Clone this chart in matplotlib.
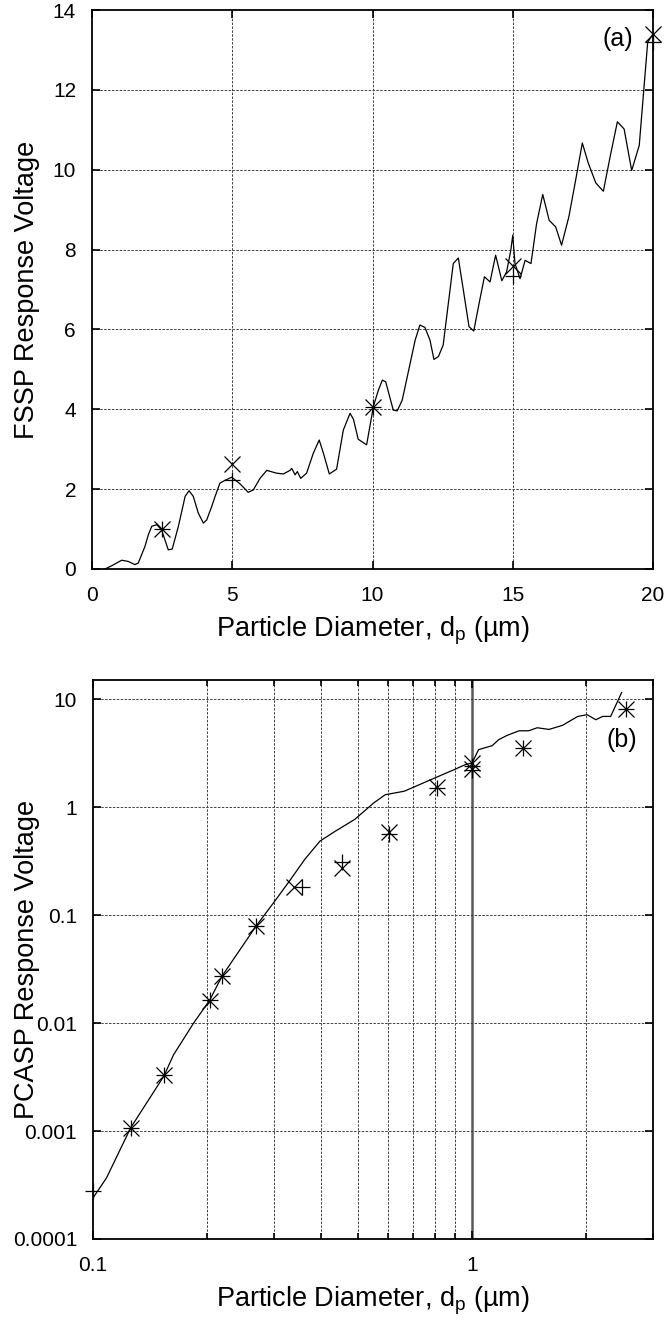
import numpy as np
import matplotlib
matplotlib.use('Agg')
import matplotlib.pyplot as plt
from matplotlib.ticker import FixedLocator, NullFormatter, FuncFormatter

plt.rcParams['font.family'] = ['Liberation Sans', 'DejaVu Sans']
plt.rcParams['mathtext.fontset'] = 'custom'
plt.rcParams['mathtext.rm'] = 'Liberation Sans'
plt.rcParams['mathtext.it'] = 'Liberation Sans'

# (a) FSSP response curve
fssp_d = [0.46, 0.70, 1.06, 1.29, 1.53, 1.65, 1.89, 2.01, 2.13, 2.31, 2.48, 2.72, 2.86,
          3.08, 3.32, 3.46, 3.61, 3.79, 3.97, 4.09, 4.27, 4.39, 4.56, 4.74, 4.98,
          5.28, 5.57, 5.75, 5.99, 6.23, 6.58, 6.82, 7.06, 7.12, 7.24, 7.32, 7.44,
          7.65, 7.89, 8.10, 8.25, 8.46, 8.72, 8.96, 9.20, 9.32, 9.49, 9.79, 9.97,
          10.03, 10.21, 10.35, 10.47, 10.74, 10.88, 11.06, 11.52, 11.69, 11.87,
          12.05, 12.19, 12.35, 12.52, 12.88, 13.06, 13.24, 13.44, 13.61, 13.80,
          13.99, 14.19, 14.39, 14.61, 14.78, 14.93, 15.00, 15.08, 15.26, 15.44,
          15.65, 15.85, 16.07, 16.30, 16.53, 16.74, 17.00, 17.24, 17.48, 17.69,
          17.96, 18.23, 18.47, 18.73, 18.97, 19.24, 19.51, 19.81, 20.0]
fssp_v = [0.0, 0.08, 0.22, 0.19, 0.11, 0.15, 0.57, 0.86, 1.07, 1.11, 0.98, 0.48, 0.50,
          1.07, 1.82, 1.96, 1.82, 1.40, 1.15, 1.23, 1.57, 1.82, 2.15, 2.22, 2.30,
          2.13, 1.92, 1.98, 2.27, 2.47, 2.40, 2.38, 2.47, 2.52, 2.36, 2.44, 2.27,
          2.40, 2.90, 3.23, 2.90, 2.38, 2.50, 3.48, 3.90, 3.75, 3.25, 3.11, 3.82,
          4.07, 4.48, 4.73, 4.69, 3.98, 3.96, 4.23, 5.73, 6.11, 6.05,
          5.73, 5.25, 5.32, 5.61, 7.65, 7.79, 6.98, 6.07, 5.96, 6.65,
          7.32, 7.19, 7.86, 7.22, 7.44, 7.98, 8.36, 7.65, 7.27, 7.73,
          7.65, 8.65, 9.38, 8.73, 8.57, 8.11, 8.82, 9.73, 10.67, 10.17,
          9.67, 9.46, 10.32, 11.20, 11.02, 9.98, 10.61, 13.19, 13.4]
fssp_pt_d = [2.5, 5, 10, 15, 20]
fssp_plus_v = [1.0, 2.22, 4.05, 7.33, 13.2]
fssp_cross_v = [1.0, 2.62, 4.05, 7.59, 13.4]

# (b) PCASP response curve
pcasp_d = [0.1, 0.1085, 0.1257, 0.154, 0.163, 0.1843, 0.203, 0.219, 0.269, 0.30, 0.33,
           0.362, 0.397, 0.436, 0.49, 0.55, 0.59, 0.662, 0.798, 0.897, 0.96, 1.0,
           1.04, 1.13, 1.175, 1.236, 1.33, 1.41, 1.485, 1.595, 1.73, 1.90, 2.01,
           2.12, 2.21, 2.32, 2.48]
pcasp_v = [2.4e-4, 3.67e-4, 1.07e-3, 3.25e-3, 5.06e-3, 0.01, 0.0162, 0.0272, 0.0787,
           0.131, 0.207, 0.328, 0.484, 0.598, 0.767, 1.09, 1.30, 1.40, 1.86, 2.22,
           2.47, 2.56, 3.40, 3.70, 4.2, 4.6, 5.08, 5.08, 5.42, 5.23, 5.70, 6.90,
           7.16, 6.43, 6.90, 6.90, 11.5]
pcasp_plus_d = [0.1, 0.1257, 0.154, 0.203, 0.219, 0.269, 0.355, 0.454, 0.604, 0.809,
                1.0, 1.0, 1.36, 2.55]
pcasp_plus_v = [2.8e-4, 1.07e-3, 3.3e-3, 0.0162, 0.027, 0.079, 0.18, 0.31, 0.56, 1.51,
                2.2, 2.4, 3.5, 8.1]
pcasp_cross_d = [0.1257, 0.154, 0.203, 0.219, 0.269, 0.34, 0.454, 0.604, 0.809, 1.0,
                 1.0, 1.36, 2.55]
pcasp_cross_v = [1.07e-3, 3.3e-3, 0.016, 0.027, 0.079, 0.18, 0.27, 0.59, 1.53, 2.55,
                 2.25, 3.5, 8.1]

grid_kw = dict(color='0.25', linestyle=(0, (2.5, 1.5)), linewidth=0.7)
mk_kw = dict(linestyle='none', color='black', markersize=12, markeredgewidth=0.9,
             clip_on=False, zorder=3)
xlab = 'Particle Diameter, d$_{\\rm p}$ (µm)'

fig = plt.figure(figsize=(6.66, 13.26), dpi=100)
ax1 = fig.add_axes([92 / 666, 1 - 569 / 1326, 561 / 666, 559 / 1326])
ax2 = fig.add_axes([93 / 666, 1 - 1239 / 1326, 560 / 666, 559 / 1326])

for ax in (ax1, ax2):
    for s in ax.spines.values():
        s.set_linewidth(1.3)
    ax.tick_params(which='both', direction='in', top=True, right=True, labelsize=15,
                   width=1.2)
    ax.tick_params(axis='x', which='both', pad=12)
    ax.tick_params(axis='y', which='both', pad=11.5)
    ax.tick_params(which='major', length=6)
    ax.tick_params(which='minor', length=4)

# panel (a)
ax1.plot(fssp_d, fssp_v, color='black', linewidth=0.9)
ax1.plot(fssp_pt_d, fssp_plus_v, marker='+', **mk_kw)
ax1.plot(fssp_pt_d, fssp_cross_v, marker='x', **mk_kw)
ax1.set_xlim(0, 20)
ax1.set_ylim(0, 14)
ax1.set_xticks([0, 5, 10, 15, 20])
ax1.set_yticks(range(0, 15, 2))
for g in [5, 10, 15]:
    ax1.axvline(g, zorder=0, **grid_kw)
for g in range(2, 14, 2):
    ax1.axhline(g, zorder=0, **grid_kw)
ax1.set_xlabel(xlab, fontsize=19.5)
ax1.set_ylabel('FSSP Response Voltage', fontsize=19.5)
ax1.xaxis.set_label_coords(0.5, -0.082)
ax1.yaxis.set_label_coords(-0.0927, 0.5)
ax1.text(0.964, 0.949, '(a)', transform=ax1.transAxes, ha='right', va='center',
         fontsize=18)

# panel (b)
ax2.set_xscale('log')
ax2.set_yscale('log')
ax2.plot(pcasp_d, pcasp_v, color='black', linewidth=0.9)
ax2.plot(pcasp_plus_d, pcasp_plus_v, marker='+', **mk_kw)
ax2.plot(pcasp_cross_d, pcasp_cross_v, marker='x', **mk_kw)
ax2.set_xlim(0.1, 3)
ax2.set_ylim(1e-4, 15)
ax2.xaxis.set_major_locator(FixedLocator([0.1, 1]))
ax2.xaxis.set_minor_locator(FixedLocator([0.2, 0.3, 0.4, 0.5, 0.6, 0.7, 0.8, 0.9, 2, 3]))
ax2.xaxis.set_minor_formatter(NullFormatter())
ax2.yaxis.set_major_locator(FixedLocator([1e-4, 1e-3, 1e-2, 0.1, 1, 10]))
ax2.yaxis.set_minor_locator(FixedLocator([]))
fmt = FuncFormatter(lambda v, p: ('%f' % v).rstrip('0').rstrip('.'))
ax2.xaxis.set_major_formatter(fmt)
ax2.yaxis.set_major_formatter(fmt)
for g in [0.2, 0.3, 0.4, 0.5, 0.6, 0.7, 0.8, 0.9, 2]:
    ax2.axvline(g, zorder=0, **grid_kw)
ax2.axvline(1, color='0.35', linewidth=1.8, zorder=0)
for g in [1e-3, 1e-2, 0.1, 1, 10]:
    ax2.axhline(g, zorder=0, **grid_kw)
ax2.set_xlabel(xlab, fontsize=19.5)
ax2.set_ylabel('PCASP Response Voltage', fontsize=19.5)
ax2.xaxis.set_label_coords(0.5, -0.082)
ax2.yaxis.set_label_coords(-0.0952, 0.5)
ax2.text(0.971, 0.893, '(b)', transform=ax2.transAxes, ha='right', va='center',
         fontsize=18)

fig.savefig('out.png', dpi=100)
